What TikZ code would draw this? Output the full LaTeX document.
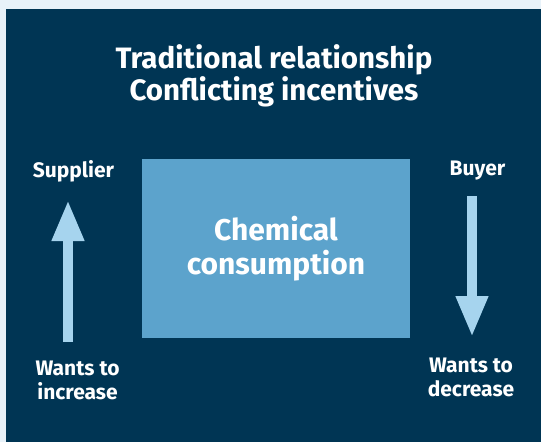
\documentclass[tikz,border=0pt]{standalone}
\usepackage{fontspec}
\setmainfont{Fira Sans}
\usepackage{tikz}
\usetikzlibrary{arrows.meta,positioning}
\definecolor{cBorder}{RGB}{232,242,249}
\definecolor{cPanel}{RGB}{0,53,84}
\definecolor{cBox}{RGB}{92,163,204}
\definecolor{cArrow}{RGB}{166,212,238}

\begin{document}
\begin{tikzpicture}[
    x=1pt, y=-1pt,
    label/.style={text=white,font=\bfseries\fontsize{21}{24}\selectfont,align=center},
    title/.style={text=white,font=\bfseries\fontsize{29.5}{30}\selectfont,align=center},
    usage/.style={fill=cBox,minimum width=268pt,minimum height=179pt,inner sep=0pt,
      text=white,font=\bfseries\fontsize{30}{34}\selectfont,align=center},
    flow/.style={draw=cArrow,line width=10pt,-{Triangle[length=41pt,width=30pt]}}
  ]
  % Background
  \fill[cBorder] (0,0) rectangle (541,442);
  \fill[cPanel] (6,9) rectangle (541,442);
  \useasboundingbox (0,0) rectangle (541,442);
  % Title
  \node[title] (head) at (274,76) {Traditional relationship\\Conflicting incentives};
  % Centre box
  \node[usage] (chem) at (276,248.5) {Chemical\\consumption};
  % Supplier side
  \node[label] (supp) at (73.5,171) {Supplier};
  \node[label] (inc) at (77.5,380) {Wants to\\increase};
  \coordinate (sBot) at (68,342);
  \coordinate (sTop) at (68,200);
  \draw[flow] (sBot) -- (sTop);
  % Buyer side
  \node[label] (buy) at (477.5,171) {Buyer};
  \node[label] (dec) at (471,377) {Wants to\\decrease};
  \coordinate (bTop) at (472,196);
  \coordinate (bBot) at (472,337);
  \draw[flow] (bTop) -- (bBot);
\end{tikzpicture}
\end{document}
